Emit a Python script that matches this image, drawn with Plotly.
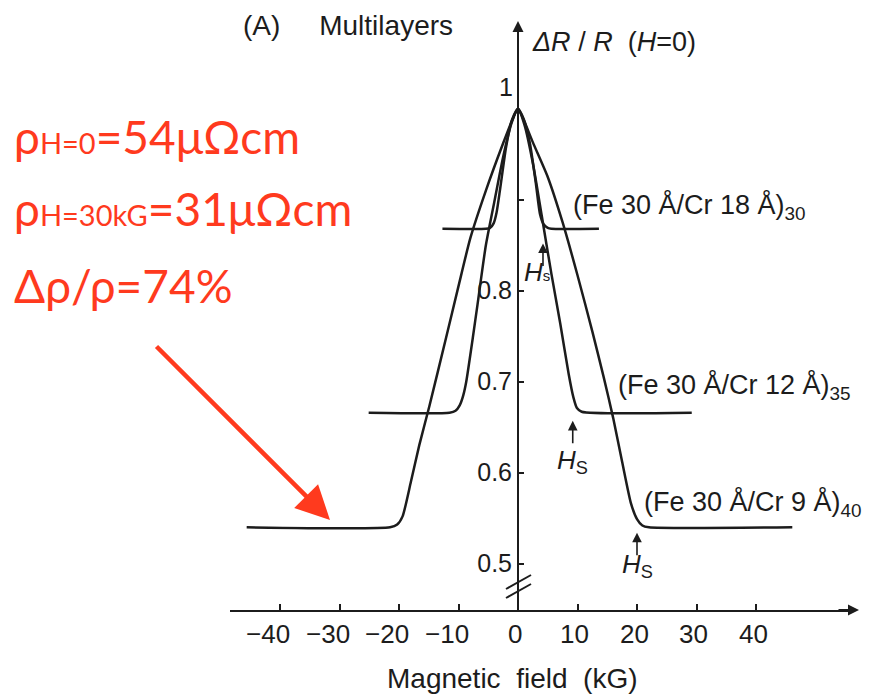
import plotly.graph_objects as go

# ---------------- data ----------------
cr18_x = [-12.7, -5.4, -4.7, -4.1, -3.6, -3.0, -2.0, -1.0, 0.0, 1.0, 2.0, 3.0, 3.7, 4.3, 5.0, 5.6, 13.6]
cr18_y = [0.868, 0.868, 0.869, 0.874, 0.886, 0.912, 0.958, 0.988, 1.0, 0.988, 0.962, 0.918, 0.884, 0.873, 0.869, 0.868, 0.868]

cr12_x = [-25.1, -11.5, -10.5, -9.8, -9.2, -8.7, -7.6, -6.8, -5.4, -4.0, -2.5, -1.1, 0.0,
          1.1, 2.5, 4.0, 5.6, 7.1, 8.5, 9.3, 9.9, 10.7, 29.2]
cr12_y = [0.666, 0.666, 0.668, 0.674, 0.685, 0.700, 0.748, 0.785, 0.850, 0.897, 0.947, 0.984, 1.0,
          0.982, 0.940, 0.882, 0.819, 0.764, 0.709, 0.683, 0.671, 0.667, 0.666]

cr9_x = [-45.6, -21.5, -20.3, -19.4, -18.0, -16.6, -14.9, -12.1, -10.0, -8.0, -5.4, -2.5, -1.0, 0.0,
         1.0, 2.5, 5.0, 7.5, 10.0, 12.5, 14.4, 16.0, 17.5, 19.0, 20.0, 20.9, 22.0, 46.1]
cr9_y = [0.540, 0.540, 0.543, 0.552, 0.590, 0.630, 0.673, 0.748, 0.805, 0.858, 0.910, 0.962, 0.987, 1.0,
         0.987, 0.963, 0.925, 0.875, 0.817, 0.755, 0.705, 0.660, 0.612, 0.566, 0.549, 0.542, 0.540, 0.540]

series_labels = ["(Fe 30 Å/Cr 18 Å)<sub>30</sub>",
                 "(Fe 30 Å/Cr 12 Å)<sub>35</sub>",
                 "(Fe 30 Å/Cr 9 Å)<sub>40</sub>"]
hs_values = [4.2, 9.2, 20.0]
sat_values = [0.868, 0.666, 0.540]

x_ticks = [-40, -30, -20, -10, 0, 10, 20, 30, 40]
x_ticktext = ["−40", "−30", "−20", "−10", "0", "10", "20", "30", "40"]
y_ticks = [0.5, 0.6, 0.7, 0.8, 0.9]
y_ticktext = ["0.5", "0.6", "0.7", "0.8", ""]

# ---------------- layout geometry ----------------
W, H = 881, 697
X0PX, PXPERKG = 518, 5.95
XL, XR = 230, 855            # x-axis line extent (px)
YB, YT = 610, 23             # y-axis line extent (px)


def xpx_to_val(px):
    return (px - X0PX) / PXPERKG


def ypx_to_val(py):
    return 0.8 - (py - 290.7) / 910.0


xrange_ = [xpx_to_val(XL), xpx_to_val(XR)]
yrange_ = [ypx_to_val(YB), ypx_to_val(YT)]

INK = "#1c1c1c"
RED = "#ff3a1e"
FONT = "Liberation Sans"
NB = "\u00a0"
TICKSIZE = 26

fig = go.Figure()
for xs, ys in [(cr18_x, cr18_y), (cr12_x, cr12_y), (cr9_x, cr9_y)]:
    fig.add_trace(go.Scatter(x=xs, y=ys, mode="lines",
                             line=dict(color=INK, width=2.5, shape="spline", smoothing=0.6),
                             showlegend=False, hoverinfo="skip"))

ann = []
# x tick labels: digits sit under the tick, the minus sign hangs to the left
digit_half = 0.556 * TICKSIZE / 2
for v, t in zip(x_ticks, x_ticktext):
    ndig = len(t.lstrip("−"))
    if t.startswith("−"):
        ann.append(dict(x=v, y=1 - 634 / H, xref="x", yref="paper", text=t, showarrow=False,
                        xanchor="right", yanchor="middle", xshift=ndig * digit_half - 2,
                        font=dict(family=FONT, size=TICKSIZE, color=INK)))
    else:
        ann.append(dict(x=v, y=1 - 634 / H, xref="x", yref="paper", text=t, showarrow=False,
                        xanchor="center", yanchor="middle", xshift=-3,
                        font=dict(family=FONT, size=TICKSIZE, color=INK)))

# series labels
label_pos = [(xpx_to_val(571), ypx_to_val(207)), (xpx_to_val(616), ypx_to_val(386)),
             (xpx_to_val(642), ypx_to_val(503))]
for (lx, ly), txt in zip(label_pos, series_labels):
    ann.append(dict(x=lx, y=ly, xref="x", yref="y", text=txt, showarrow=False,
                    xanchor="left", yanchor="middle", font=dict(family=FONT, size=27, color=INK)))

# H_s arrows and labels
for hs, sat, dtip, dtext, small in zip(hs_values, sat_values, [0.016, 0.009, 0.006],
                                        [0.047, 0.054, 0.042], [True, False, False]):
    ann.append(dict(x=hs, y=sat - dtip, xref="x", yref="y", text="", showarrow=True,
                    arrowhead=2, arrowsize=1.2, arrowwidth=1.6, arrowcolor=INK, ax=0, ay=24))
    if small:
        txt = "<i>H</i><span style='font-size:15px'>s</span>"
        dx = -1.0
    else:
        txt = "<i>H</i><sub>S</sub>"
        dx = 0.0
    ann.append(dict(x=hs + dx, y=sat - dtext, xref="x", yref="y", text=txt,
                    showarrow=False, xanchor="center", yanchor="middle",
                    font=dict(family=FONT, size=26, color=INK)))

# "1" tick label
ann.append(dict(x=506 / W, y=1 - 87 / H, xref="paper", yref="paper", text="1", showarrow=False,
                xanchor="center", yanchor="middle", font=dict(family=FONT, size=25, color=INK)))
# top titles
ann.append(dict(x=241 / W, y=1 - 25 / H, xref="paper", yref="paper",
                text="(A)" + NB * 5 + "Multilayers",
                showarrow=False, xanchor="left", yanchor="middle",
                font=dict(family=FONT, size=28, color=INK)))
ann.append(dict(x=530 / W, y=1 - 42 / H, xref="paper", yref="paper",
                text="<i>ΔR</i> / <i>R</i>" + NB * 2 + "(<i>H</i>=0)", showarrow=False,
                xanchor="left", yanchor="middle", font=dict(family=FONT, size=27, color=INK)))
# x axis title
ann.append(dict(x=512 / W, y=1 - 678 / H, xref="paper", yref="paper",
                text="Magnetic" + NB * 2 + "field" + NB * 2 + "(kG)",
                showarrow=False, xanchor="center", yanchor="middle",
                font=dict(family=FONT, size=28, color=INK)))
# axis arrow heads
ann.append(dict(x=(XR + 4) / W, y=1 - YB / H, xref="paper", yref="paper", text="", showarrow=True,
                arrowhead=2, arrowsize=1.1, arrowwidth=2, arrowcolor=INK, ax=-22, ay=0))
ann.append(dict(x=X0PX / W, y=1 - (YT - 2) / H, xref="paper", yref="paper", text="", showarrow=True,
                arrowhead=2, arrowsize=1.1, arrowwidth=2, arrowcolor=INK, ax=0, ay=22))

# red text block
red_lines = ["ρ<span style='font-size:29px'>H=0</span>=54μΩcm",
             "ρ<span style='font-size:29px'>H=30kG</span>=31μΩcm",
             "Δρ/ρ=74%"]
for txt, cy in zip(red_lines, [137, 209, 285]):
    ann.append(dict(x=12 / W, y=1 - cy / H, xref="paper", yref="paper", text=txt, showarrow=False,
                    xanchor="left", yanchor="middle", font=dict(family="Lato", size=46, color=RED)))
# red arrow
ann.append(dict(x=330 / W, y=1 - 520 / H, xref="paper", yref="paper", text="", showarrow=True,
                arrowhead=2, arrowsize=1.5, arrowwidth=4.5, arrowcolor=RED, ax=-175, ay=-175))

# axis break marks
shapes = []
for dy in [0, 9]:
    shapes.append(dict(type="line", xref="paper", yref="paper",
                       x0=506 / W, y0=1 - (598 - dy) / H, x1=531 / W, y1=1 - (584 - dy) / H,
                       line=dict(color=INK, width=2)))

fig.update_layout(
    width=W, height=H, autosize=False,
    margin=dict(l=0, r=0, t=0, b=0),
    paper_bgcolor="white", plot_bgcolor="white",
    annotations=ann, shapes=shapes,
    xaxis=dict(domain=[XL / W, XR / W], range=xrange_, showgrid=False, zeroline=False,
               showline=True, linecolor=INK, linewidth=2, ticks="inside", ticklen=6,
               tickwidth=2, tickcolor=INK, tickvals=x_ticks, showticklabels=False),
    yaxis=dict(domain=[1 - YB / H, 1 - YT / H], range=yrange_, anchor="free",
               position=X0PX / W, showgrid=False, zeroline=False, showline=True,
               linecolor=INK, linewidth=2, ticks="inside", ticklen=5, tickwidth=2,
               tickcolor=INK, tickvals=y_ticks, ticktext=y_ticktext,
               tickfont=dict(family=FONT, size=25, color=INK)),
)

fig.write_html("out.html", config={"displayModeBar": False},
               post_script="document.body.style.margin='0px';document.body.style.overflow='hidden';")
